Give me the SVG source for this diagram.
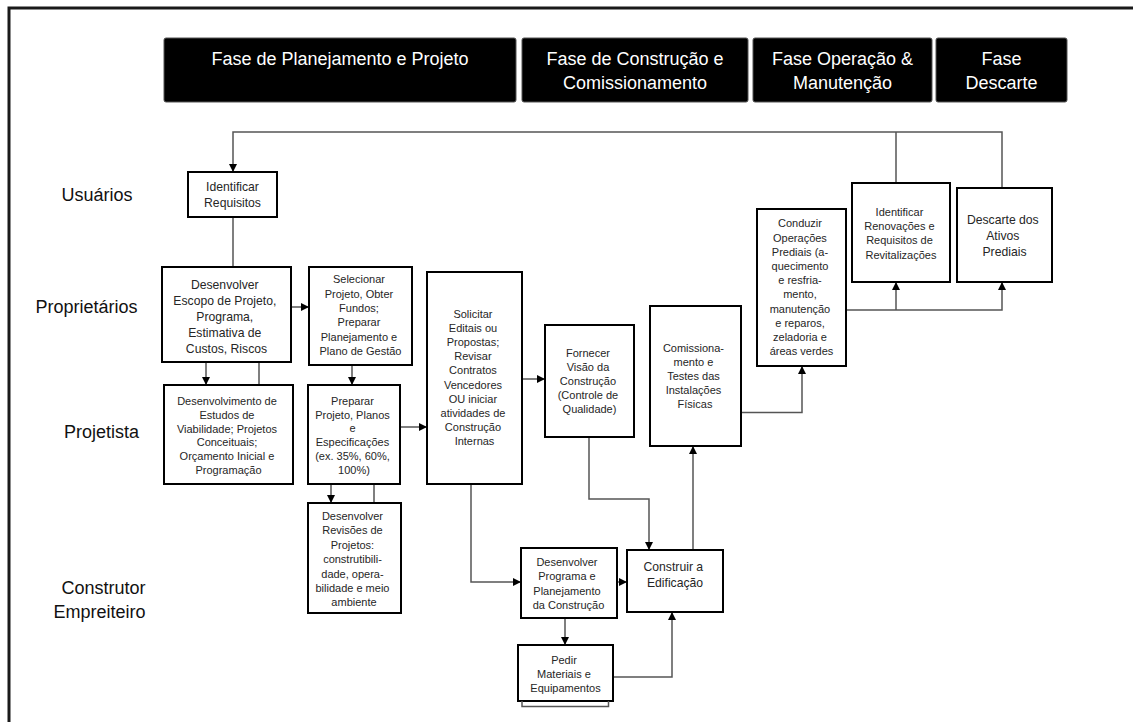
<svg xmlns="http://www.w3.org/2000/svg" width="1133" height="722" viewBox="0 0 1133 722">
  <defs>
    <marker id="arrow" markerUnits="userSpaceOnUse" markerWidth="9" markerHeight="9" refX="8" refY="4" orient="auto">
      <path d="M0,0 L8,4 L0,8 z" fill="#000"/>
    </marker>
    <style>
      .frame { fill: none; stroke: #1a1a1a; stroke-width: 3; }
      .phase rect { fill: #000; stroke: #555; stroke-width: 1; }
      .phase text { fill: #fff; font-family: "Liberation Sans", Arial, sans-serif; font-size: 18px; text-anchor: middle; }
      .lane { fill: #111; font-family: "Liberation Sans", Arial, sans-serif; font-size: 18px; text-anchor: middle; }
      .node rect { fill: #fff; stroke: #000; stroke-width: 2; }
      .node text { fill: #262626; font-family: "Liberation Sans", Arial, sans-serif; font-size: 11px; text-anchor: middle; }
      .node text.big { font-size: 12.2px; }
      .conn path { fill: none; stroke: #555; stroke-width: 1.5; }
      .conn path.arr { marker-end: url(#arrow); }
    </style>
  </defs>

  <rect width="1133" height="722" fill="#fff"/>
  <!-- outer frame, running off the right and bottom edges -->
  <rect class="frame" x="9" y="8" width="1140" height="730"/>

  <!-- phase headers -->
  <g id="phase-planejamento" class="phase">
    <rect x="164" y="38" width="352" height="64" rx="2"/>
    <text x="340" y="65">Fase de Planejamento e Projeto</text>
  </g>
  <g id="phase-construcao" class="phase">
    <rect x="522" y="38" width="226" height="64" rx="2"/>
    <text x="635" y="65">Fase de Construção e</text>
    <text x="635" y="89">Comissionamento</text>
  </g>
  <g id="phase-operacao" class="phase">
    <rect x="753" y="38" width="179" height="64" rx="2"/>
    <text x="842.5" y="65">Fase Operação &amp;</text>
    <text x="842.5" y="89">Manutenção</text>
  </g>
  <g id="phase-descarte" class="phase">
    <rect x="936" y="38" width="131" height="64" rx="2"/>
    <text x="1001.5" y="65">Fase</text>
    <text x="1001.5" y="89">Descarte</text>
  </g>

  <!-- swimlane labels -->
  <g id="lanes">
    <text class="lane" x="97" y="201">Usuários</text>
    <text class="lane" x="86.5" y="313">Proprietários</text>
    <text class="lane" x="101.5" y="438">Projetista</text>
    <text class="lane" x="103.5" y="594">Construtor</text>
    <text class="lane" x="99.5" y="618">Empreiteiro</text>
  </g>

  <!-- connectors -->
  <g id="connectors" class="conn">
    <path class="arr" d="M1002,188 V132 H233 V172"/>
    <path d="M896,183 V132"/>
    <path d="M233,217 V267"/>
    <path class="arr" d="M291,307 H309"/>
    <path class="arr" d="M206,362 V385"/>
    <path d="M259,362 V385"/>
    <path class="arr" d="M352,365 V385"/>
    <path class="arr" d="M400,427 H427"/>
    <path class="arr" d="M331,484 V503"/>
    <path d="M374,484 V503"/>
    <path class="arr" d="M522,379 H545"/>
    <path class="arr" d="M471,484 V582 H521"/>
    <path class="arr" d="M589,437 V499 H649 V550"/>
    <path class="arr" d="M617,582 H627"/>
    <path class="arr" d="M565,618 V645"/>
    <path class="arr" d="M613,677 H672 V612"/>
    <path class="arr" d="M693,550 V446"/>
    <path class="arr" d="M741,412.5 H802 V366"/>
    <path class="arr" d="M846,310 H1002 V282"/>
    <path class="arr" d="M896,310 V282"/>
  </g>

  <!-- nodes -->
  <g id="identificar-requisitos" class="node">
    <rect x="188" y="172" width="89" height="45"/>
    <text class="big" x="232.5"><tspan x="232.5" y="191">Identificar</tspan><tspan x="232.5" y="207">Requisitos</tspan></text>
  </g>

  <g id="desenvolver-escopo" class="node">
    <rect x="162" y="267" width="129" height="95"/>
    <text class="big">
      <tspan x="226.5" y="288.5">Desenvolver</tspan>
      <tspan x="226.5" y="304.7">Escopo de Projeto,</tspan>
      <tspan x="226.5" y="320.9">Programa,</tspan>
      <tspan x="226.5" y="337.1">Estimativa de</tspan>
      <tspan x="226.5" y="353.3">Custos, Riscos</tspan>
    </text>
  </g>

  <g id="selecionar-projeto" class="node">
    <rect x="309" y="267" width="103" height="98"/>
    <text>
      <tspan x="360.5" y="283.3">Selecionar</tspan>
      <tspan x="360.5" y="297.6">Projeto, Obter</tspan>
      <tspan x="360.5" y="311.9">Fundos;</tspan>
      <tspan x="360.5" y="326.2">Preparar</tspan>
      <tspan x="360.5" y="340.5">Planejamento e</tspan>
      <tspan x="360.5" y="354.8">Plano de Gestão</tspan>
    </text>
  </g>

  <g id="estudos-viabilidade" class="node">
    <rect x="164" y="385" width="129" height="99"/>
    <text>
      <tspan x="228.5" y="405">Desenvolvimento de</tspan>
      <tspan x="228.5" y="418.8">Estudos de</tspan>
      <tspan x="228.5" y="432.6">Viabilidade; Projetos</tspan>
      <tspan x="228.5" y="446.4">Conceituais;</tspan>
      <tspan x="228.5" y="460.2">Orçamento Inicial e</tspan>
      <tspan x="228.5" y="474">Programação</tspan>
    </text>
  </g>

  <g id="preparar-projeto" class="node">
    <rect x="308" y="385" width="92" height="99"/>
    <text>
      <tspan x="354" y="404.7">Preparar</tspan>
      <tspan x="354" y="418.5">Projeto, Planos</tspan>
      <tspan x="354" y="432.3">e</tspan>
      <tspan x="354" y="446.1">Especificações</tspan>
      <tspan x="354" y="459.9">(ex. 35%, 60%,</tspan>
      <tspan x="354" y="473.7">100%)</tspan>
    </text>
  </g>

  <g id="revisoes-projetos" class="node">
    <rect x="308" y="503" width="93" height="110"/>
    <text>
      <tspan x="354" y="520">Desenvolver</tspan>
      <tspan x="354" y="534.4">Revisões de</tspan>
      <tspan x="354" y="548.8">Projetos:</tspan>
      <tspan x="354" y="563.2">construtibili-</tspan>
      <tspan x="354" y="577.6">dade, opera-</tspan>
      <tspan x="354" y="592">bilidade e meio</tspan>
      <tspan x="354" y="606.4">ambiente</tspan>
    </text>
  </g>

  <g id="solicitar-editais" class="node">
    <rect x="427" y="272" width="95" height="212"/>
    <text>
      <tspan x="474.5" y="318">Solicitar</tspan>
      <tspan x="474.5" y="332.1">Editais ou</tspan>
      <tspan x="474.5" y="346.2">Propostas;</tspan>
      <tspan x="474.5" y="360.3">Revisar</tspan>
      <tspan x="474.5" y="374.4">Contratos</tspan>
      <tspan x="474.5" y="388.5">Vencedores</tspan>
      <tspan x="474.5" y="402.6">OU iniciar</tspan>
      <tspan x="474.5" y="416.7">atividades de</tspan>
      <tspan x="474.5" y="430.8">Construção</tspan>
      <tspan x="474.5" y="444.9">Internas</tspan>
    </text>
  </g>

  <g id="fornecer-visao" class="node">
    <rect x="545" y="325" width="89" height="112"/>
    <text>
      <tspan x="589.5" y="356.7">Fornecer</tspan>
      <tspan x="589.5" y="370.7">Visão da</tspan>
      <tspan x="589.5" y="384.7">Construção</tspan>
      <tspan x="589.5" y="398.7">(Controle de</tspan>
      <tspan x="589.5" y="412.7">Qualidade)</tspan>
    </text>
  </g>

  <g id="comissionamento" class="node">
    <rect x="650" y="306" width="91" height="140"/>
    <text>
      <tspan x="695" y="352.3">Comissiona-</tspan>
      <tspan x="695" y="366.3">mento e</tspan>
      <tspan x="695" y="380.3">Testes das</tspan>
      <tspan x="695" y="394.3">Instalações</tspan>
      <tspan x="695" y="408.3">Físicas</tspan>
    </text>
  </g>

  <g id="conduzir-operacoes" class="node">
    <rect x="757" y="209" width="89" height="157"/>
    <text>
      <tspan x="801.5" y="227.3">Conduzir</tspan>
      <tspan x="801.5" y="241.5">Operações</tspan>
      <tspan x="801.5" y="255.7">Prediais (a-</tspan>
      <tspan x="801.5" y="269.9">quecimento</tspan>
      <tspan x="801.5" y="284.1">e resfria-</tspan>
      <tspan x="801.5" y="298.3">mento,</tspan>
      <tspan x="801.5" y="312.5">manutenção</tspan>
      <tspan x="801.5" y="326.7">e reparos,</tspan>
      <tspan x="801.5" y="340.9">zeladoria e</tspan>
      <tspan x="801.5" y="355.1">áreas verdes</tspan>
    </text>
  </g>

  <g id="identificar-renovacoes" class="node">
    <rect x="852" y="183" width="98" height="99"/>
    <text>
      <tspan x="901" y="215.7">Identificar</tspan>
      <tspan x="901" y="230">Renovações e</tspan>
      <tspan x="901" y="244.3">Requisitos de</tspan>
      <tspan x="901" y="258.6">Revitalizações</tspan>
    </text>
  </g>

  <g id="descarte-ativos" class="node">
    <rect x="957" y="188" width="95" height="94"/>
    <text class="big">
      <tspan x="1004.5" y="223.8">Descarte dos</tspan>
      <tspan x="1004.5" y="240">Ativos</tspan>
      <tspan x="1004.5" y="256.2">Prediais</tspan>
    </text>
  </g>

  <g id="programa-construcao" class="node">
    <rect x="521" y="548" width="96" height="70"/>
    <text>
      <tspan x="568.5" y="566.3">Desenvolver</tspan>
      <tspan x="568.5" y="580.4">Programa e</tspan>
      <tspan x="568.5" y="594.5">Planejamento</tspan>
      <tspan x="568.5" y="608.6">da Construção</tspan>
    </text>
  </g>

  <g id="construir-edificacao" class="node">
    <rect x="627" y="550" width="96" height="62"/>
    <text class="big">
      <tspan x="675" y="570.5">Construir a</tspan>
      <tspan x="675" y="586.8">Edificação</tspan>
    </text>
  </g>

  <g id="pedir-materiais" class="node">
    <rect x="518" y="645" width="95" height="56"/>
    <path d="M522,701 V706.5 H608.5 V701" fill="none" stroke="#555" stroke-width="1.5"/>
    <text>
      <tspan x="565.5" y="664">Pedir</tspan>
      <tspan x="565.5" y="678.2">Materiais e</tspan>
      <tspan x="565.5" y="692.4">Equipamentos</tspan>
    </text>
  </g>
</svg>
